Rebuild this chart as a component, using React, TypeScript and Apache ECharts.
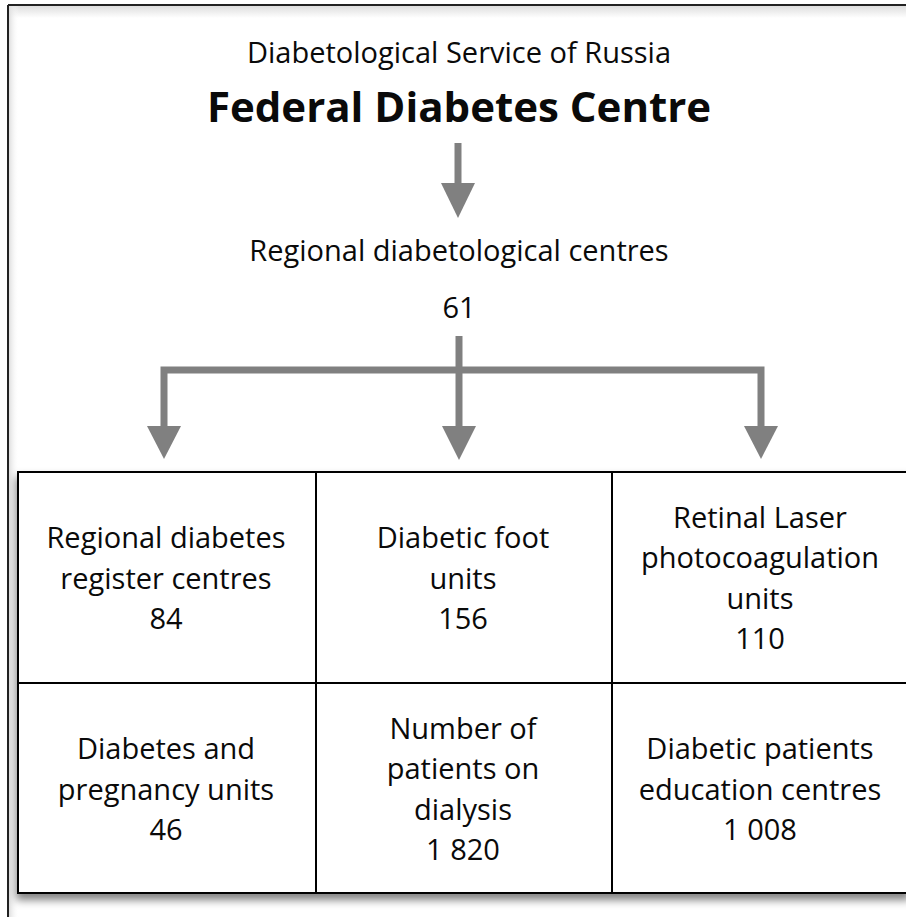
import React, { useEffect, useRef } from "react";
import * as echarts from "echarts";

// ---- content ----
const serviceLabel = "Diabetological Service of Russia";
const centreTitle = "Federal Diabetes Centre";
const regionalLabel = "Regional diabetological centres";
const regionalCount = "61";
const cellTitles: string[][] = [
  ["Regional diabetes", "register centres"],
  ["Diabetic foot", "units"],
  ["Retinal Laser", "photocoagulation", "units"],
  ["Diabetes and", "pregnancy units"],
  ["Number of", "patients on", "dialysis"],
  ["Diabetic patients", "education centres"],
];
const cellValues = ["84", "156", "110", "46", "1 820", "1 008"];

// ---- layout ----
const W = 906;
const H = 917;
const FONT = '"Open Sans", sans-serif';
const GREY = "#808080";
const INK = "#0a0a0a";
const colEdges = [18, 316, 612, 910];
const rowEdges = [472, 683, 893];
const rowCenters = [577, 788];
const LINE_H = 40.5;
const CELL_FS = 29;

function buildGraphic() {
  const els: any[] = [];

  // outer frame with soft inner shading
  els.push({
    type: "rect",
    shape: { x: 9, y: 6, width: W - 9, height: 12 },
    style: {
      fill: new echarts.graphic.LinearGradient(0, 0, 0, 1, [
        { offset: 0, color: "#dedede" },
        { offset: 1, color: "#ffffff" },
      ]),
    },
    silent: true,
  });
  els.push({
    type: "rect",
    shape: { x: 9, y: 6, width: 10, height: H - 6 },
    style: {
      fill: new echarts.graphic.LinearGradient(0, 0, 1, 0, [
        { offset: 0, color: "#dedede" },
        { offset: 1, color: "rgba(255,255,255,0)" },
      ]),
    },
    silent: true,
  });
  els.push({
    type: "line",
    shape: { x1: 8, y1: 5, x2: W, y2: 5 },
    style: { stroke: "#222", lineWidth: 2 },
    silent: true,
  });
  els.push({
    type: "line",
    shape: { x1: 8, y1: 5, x2: 8, y2: H },
    style: { stroke: "#222", lineWidth: 2 },
    silent: true,
  });

  // headings
  els.push({
    type: "text",
    x: 459,
    y: 51,
    style: { text: serviceLabel, fontFamily: FONT, fontSize: 29, fill: INK, align: "center", verticalAlign: "middle" },
  });
  els.push({
    type: "text",
    x: 459,
    y: 105,
    style: { text: centreTitle, fontFamily: FONT, fontSize: 42, fontWeight: "bold", fill: INK, align: "center", verticalAlign: "middle" },
  });

  // top arrow
  els.push({ type: "rect", shape: { x: 454.5, y: 143, width: 7, height: 44 }, style: { fill: GREY } });
  els.push({ type: "polygon", shape: { points: [[441, 183], [475, 183], [458, 218]] }, style: { fill: GREY } });

  els.push({
    type: "text",
    x: 459,
    y: 249,
    style: { text: regionalLabel, fontFamily: FONT, fontSize: 29, fill: INK, align: "center", verticalAlign: "middle" },
  });
  els.push({
    type: "text",
    x: 459,
    y: 306,
    style: { text: regionalCount, fontFamily: FONT, fontSize: 29, fill: INK, align: "center", verticalAlign: "middle" },
  });

  // branching arrows
  els.push({
    type: "polyline",
    shape: { points: [[164, 430], [164, 370], [761, 370], [761, 430]] },
    style: { stroke: GREY, lineWidth: 7, fill: null, lineJoin: "miter", lineCap: "butt" },
  });
  els.push({
    type: "line",
    shape: { x1: 459, y1: 336, x2: 459, y2: 430 },
    style: { stroke: GREY, lineWidth: 7, lineCap: "butt" },
  });
  [[164, 426, 459], [459, 426, 460], [761, 426, 459]].forEach(([cx, top, tip]) => {
    els.push({
      type: "polygon",
      shape: { points: [[cx - 17, top], [cx + 17, top], [cx, tip]] },
      style: { fill: GREY },
    });
  });

  // table
  els.push({
    type: "rect",
    shape: { x: colEdges[0], y: rowEdges[0], width: colEdges[3] - colEdges[0], height: rowEdges[2] - rowEdges[0] },
    style: {
      fill: "#ffffff",
      stroke: "#000",
      lineWidth: 2,
      shadowBlur: 9,
      shadowOffsetX: -1,
      shadowOffsetY: 6,
      shadowColor: "rgba(0,0,0,0.5)",
    },
  });
  [colEdges[1], colEdges[2]].forEach((x) => {
    els.push({
      type: "line",
      shape: { x1: x, y1: rowEdges[0], x2: x, y2: rowEdges[2] },
      style: { stroke: "#000", lineWidth: 2 },
    });
  });
  els.push({
    type: "line",
    shape: { x1: colEdges[0], y1: rowEdges[1], x2: colEdges[3], y2: rowEdges[1] },
    style: { stroke: "#000", lineWidth: 2 },
  });

  cellTitles.forEach((title, i) => {
    const col = i % 3;
    const row = Math.floor(i / 3);
    const cx = (colEdges[col] + colEdges[col + 1]) / 2 - 1;
    const lines = [...title, cellValues[i]];
    const n = lines.length;
    lines.forEach((ln, k) => {
      els.push({
        type: "text",
        x: cx,
        y: rowCenters[row] + (k - (n - 1) / 2) * LINE_H,
        style: { text: ln, fontFamily: FONT, fontSize: CELL_FS, fill: INK, align: "center", verticalAlign: "middle" },
      });
    });
  });

  return els;
}

export default function App() {
  const ref = useRef<HTMLDivElement>(null);
  useEffect(() => {
    document.body.style.margin = "0";
    if (!ref.current) return;
    const chart = echarts.init(ref.current, null, { renderer: "svg" });
    chart.setOption({
      animation: false,
      backgroundColor: "#ffffff",
      graphic: { elements: buildGraphic() },
    });
    return () => chart.dispose();
  }, []);
  return <div ref={ref} style={{ width: W, height: H, overflow: "hidden" }} />;
}
